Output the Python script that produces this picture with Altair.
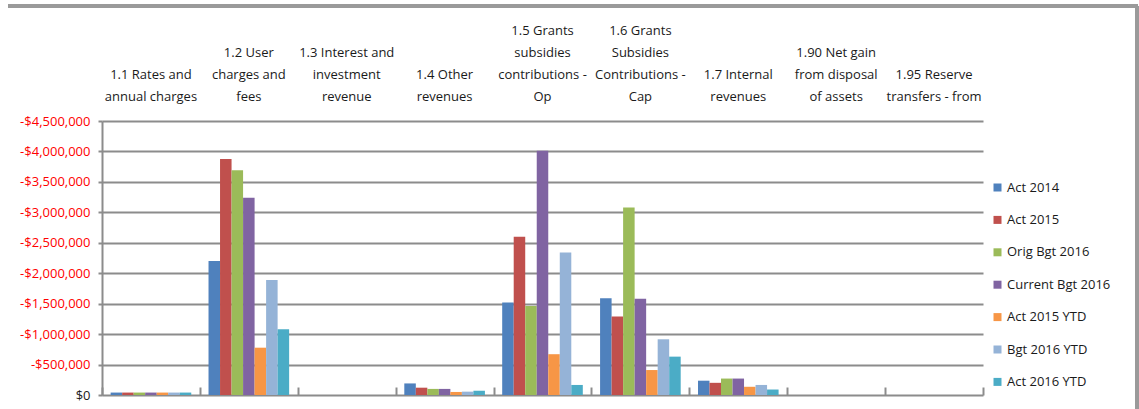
import altair as alt
import pandas as pd

categories = [
    "1.1 Rates and|annual charges",
    "1.2 User|charges and|fees",
    "1.3 Interest and|investment|revenue",
    "1.4 Other|revenues",
    "1.5 Grants|subsidies|contributions -|Op",
    "1.6 Grants|Subsidies|Contributions -|Cap",
    "1.7 Internal|revenues",
    "1.90 Net gain|from disposal|of assets",
    "1.95 Reserve|transfers - from",
]
series = ["Act 2014", "Act 2015", "Orig Bgt 2016", "Current Bgt 2016",
          "Act 2015 YTD", "Bgt 2016 YTD", "Act 2016 YTD"]
colors = ["#4F81BD", "#C0504D", "#9BBB59", "#8064A2", "#F79646", "#95B3D7", "#4BACC6"]

act_2014 = [-40000, -2200000, 0, -190000, -1520000, -1590000, -235000, 0, 0]
act_2015 = [-40000, -3875000, 0, -120000, -2600000, -1290000, -200000, 0, 0]
orig_bgt_2016 = [-40000, -3690000, 0, -100000, -1460000, -3080000, -270000, 0, 0]
current_bgt_2016 = [-40000, -3240000, 0, -100000, -4010000, -1580000, -270000, 0, 0]
act_2015_ytd = [-40000, -777000, 0, -50000, -670000, -410000, -135000, 0, 0]
bgt_2016_ytd = [-40000, -1890000, 0, -55000, -2340000, -915000, -165000, 0, 0]
act_2016_ytd = [-40000, -1080000, 0, -70000, -165000, -630000, -90000, 0, 0]

all_values = [act_2014, act_2015, orig_bgt_2016, current_bgt_2016,
              act_2015_ytd, bgt_2016_ytd, act_2016_ytd]

rows = []
for s, vals in zip(series, all_values):
    for c, v in zip(categories, vals):
        rows.append({"category": c, "series": s, "value": v})
df = pd.DataFrame(rows)

FONT = "Open Sans"
FS = 13
W, H = 881, 274

x_scale = alt.Scale(domain=categories, paddingInner=0, paddingOuter=0)
y_scale = alt.Scale(domain=[-4500000, 0], reverse=True, nice=False)

bars = alt.Chart(df).mark_bar().encode(
    x=alt.X("category:N", scale=x_scale, sort=categories,
            axis=alt.Axis(orient="top", title=None, labelAngle=0,
                          labelExpr="split(datum.label, '|')",
                          labelFont=FONT, labelFontSize=FS, labelColor="#1A1A1A",
                          labelLineHeight=22,
                          labelPadding={"expr": "18 + (length(split(datum.label, '|')) - 1) * 22"},
                          labelBaseline="bottom",
                          ticks=False, domain=False, labelLimit=200)),
    xOffset=alt.XOffset("series:N", sort=series,
                        scale=alt.Scale(paddingInner=0, paddingOuter=0.75)),
    y=alt.Y("value:Q", scale=y_scale,
            axis=alt.Axis(title=None, values=list(range(-4500000, 1, 500000)),
                          labelExpr="datum.value == 0 ? '$0' : '-$' + format(-datum.value, ',.0f')",
                          labelColor={"expr": "datum.value < 0 ? '#FF0000' : '#1A1A1A'"},
                          labelFont=FONT, labelFontSize=FS,
                          labelPadding=8, tickSize=4, tickColor="#8C8C8C",
                          tickWidth=2, domainColor="#8C8C8C", domainWidth=2,
                          grid=True, gridColor="#8C8C8C", gridWidth=2)),
    color=alt.Color("series:N", sort=series,
                    scale=alt.Scale(domain=series, range=colors),
                    legend=alt.Legend(title=None, orient="none", legendX=889, legendY=60,
                                      symbolType="square", symbolSize=64,
                                      symbolStrokeWidth=0,
                                      labelFont=FONT, labelFontSize=FS,
                                      labelColor="#1A1A1A", rowPadding=18.4,
                                      labelOffset=3)),
)

tick_df = pd.DataFrame({"category": categories})
ticks = alt.Chart(tick_df).mark_point(opacity=0).encode(
    x=alt.X("category:N", scale=x_scale, sort=categories,
            axis=alt.Axis(orient="bottom", title=None, labels=False, domain=False,
                          tickBand="extent", tickSize=8, offset=-8,
                          tickColor="#8C8C8C", tickWidth=2)),
)

frame_top = alt.Chart(tick_df).mark_rule(color="#9A9A9A", strokeWidth=3).encode(
    x=alt.value(-94), x2=alt.value(1036), y=alt.value(-115)
)
frame_right = alt.Chart(tick_df).mark_rule(color="#9A9A9A", strokeWidth=3).encode(
    x=alt.value(1035), y=alt.value(-115), y2=alt.value(300)
)

chart = alt.layer(bars, ticks, frame_top, frame_right).resolve_axis(x="independent").properties(
    width=W, height=H,
    autosize=alt.AutoSizeParams(type="none"),
    padding={"left": 102, "top": 121, "right": 156, "bottom": 14},
    background="#FFFFFF",
).configure_view(stroke=None).configure_axis(labelFontWeight="normal")

chart.save("out.html", embed_options={"renderer": "svg", "actions": False})
